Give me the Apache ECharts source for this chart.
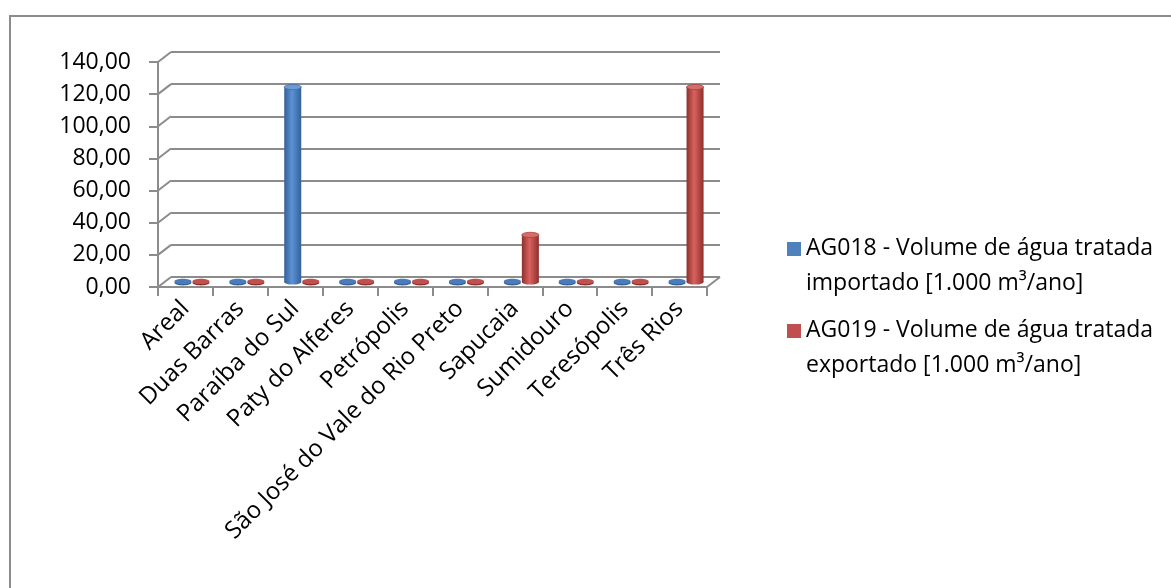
<!DOCTYPE html>
<html>
<head>
<meta charset="utf-8">
<script src="https://cdn.jsdelivr.net/npm/echarts@6/dist/echarts.min.js"></script>
<style>html,body{margin:0;padding:0;background:#fff;}#c{width:1171px;height:588px;}</style>
</head>
<body>
<div id="c"></div>
<script>
const categories = ['Areal','Duas Barras','Paraíba do Sul','Paty do Alferes','Petrópolis','São José do Vale do Rio Preto','Sapucaia','Sumidouro','Teresópolis','Três Rios'];
const seriesNames = ['AG018 - Volume de água tratada\nimportado [1.000 m³/ano]','AG019 - Volume de água tratada\nexportado [1.000 m³/ano]'];
const ag018 = [0, 0, 121.3, 0, 0, 0, 0, 0, 0, 0];
const ag019 = [0, 0, 0, 0, 0, 0, 29.3, 0, 0, 121.3];
const yTicks = [0, 20, 40, 60, 80, 100, 120, 140];

const FONT = 'Open Sans';
const DX = 13, DY = -10; // depth offset of back wall
const GRID = '#8c8c8c';

const palettes = [
  {edge:'#35609a', mid:'#5c92d4', base:'#4a7cbc', top:'#6d9bd6', rim:'#3f6ea8'},
  {edge:'#8e2f2c', mid:'#d9625f', base:'#c0504d', top:'#d66d6a', rim:'#a9403d'}
];

function cylinder(si) {
  return function (params, api) {
    const cat = api.value(0), v = api.value(1);
    const band = api.size([1, 0])[0];
    const w = band * 0.31;
    const off = (si === 0 ? -1 : 1) * (w / 2 + 0.5);
    const b = api.coord([cat, 0]);
    const t = api.coord([cat, v]);
    const cx = b[0] + off + DX / 2;
    const by = b[1] + DY / 2;
    const ty = t[1] + DY / 2;
    const rx = w / 2, ry = 2.6;
    const p = palettes[si];
    const grad = {type:'linear', x:0, y:0, x2:1, y2:0, colorStops:[
      {offset:0, color:p.edge},{offset:0.45, color:p.mid},{offset:1, color:p.edge}]};
    const children = [];
    if (by - ty > 1) {
      children.push({type:'rect', shape:{x:cx - rx, y:ty, width:w, height:by - ty}, style:{fill:grad}});
      children.push({type:'ellipse', shape:{cx:cx, cy:by, rx:rx, ry:ry}, style:{fill:grad}});
      children.push({type:'ellipse', shape:{cx:cx, cy:ty, rx:rx, ry:ry}, style:{fill:p.top, stroke:p.rim, lineWidth:0.8}});
    } else {
      children.push({type:'ellipse', shape:{cx:cx, cy:by + 0.8, rx:rx, ry:ry}, style:{fill:p.edge}});
      children.push({type:'ellipse', shape:{cx:cx, cy:by - 0.6, rx:rx, ry:ry}, style:{fill:p.base}});
    }
    return {type:'group', children:children};
  };
}

function connectors(params, api) {
  const v = api.value(0);
  const cs = params.coordSys;
  const y = api.coord([0, v])[1];
  const children = [{type:'line', shape:{x1:cs.x, y1:y, x2:cs.x + DX, y2:y + DY}, style:{stroke:GRID, lineWidth:2}}];
  if (v === 0) {
    children.push({type:'line', shape:{x1:cs.x + cs.width, y1:y, x2:cs.x + cs.width + DX, y2:y + DY}, style:{stroke:GRID, lineWidth:2}});
  }
  return {type:'group', children:children};
}

const chart = echarts.init(document.getElementById('c'), null, {renderer:'canvas'});
chart.setOption({
  animation:false,
  backgroundColor:'#ffffff',
  textStyle:{fontFamily:FONT},
  graphic:[{type:'rect', shape:{x:10, y:16, width:1300, height:700}, style:{fill:'none', stroke:GRID, lineWidth:2}, silent:true, z:-10}],
  grid:[
    {left:158, top:62, width:549, height:225},
    {left:158 + DX, top:62 + DY, width:549, height:225}
  ],
  xAxis:[
    {type:'category', gridIndex:0, data:categories, boundaryGap:true,
     axisLine:{lineStyle:{color:GRID, width:2}},
     axisTick:{show:true, interval:0, length:9, lineStyle:{color:GRID, width:2}},
     axisLabel:{interval:0, rotate:45, margin:18, color:'#000', fontSize:24, fontFamily:FONT}},
    {type:'category', gridIndex:1, data:categories, show:false}
  ],
  yAxis:[
    {type:'value', gridIndex:0, min:0, max:140, interval:20,
     axisLine:{show:true, lineStyle:{color:GRID, width:2}},
     axisTick:{show:true, length:9, lineStyle:{color:GRID, width:2}},
     splitLine:{show:false},
     axisLabel:{margin:27, color:'#000', fontSize:23, fontFamily:FONT, formatter:function(v){return v.toFixed(2).replace('.', ',');}}},
    {type:'value', gridIndex:1, min:0, max:140, interval:20,
     axisLine:{show:false}, axisTick:{show:false}, axisLabel:{show:false},
     splitLine:{show:true, lineStyle:{color:GRID, width:2}}}
  ],
  legend:{
    orient:'vertical', left:787, top:231, padding:0, itemGap:12,
    itemWidth:14, itemHeight:48, itemTextGap:7,
    icon:'path://M0,0L14,0L14,14L0,14ZM0,48',
    textStyle:{fontSize:23, lineHeight:35, color:'#000', fontFamily:FONT},
    data:[
      {name:seriesNames[0], itemStyle:{color:'#4F81BD'}},
      {name:seriesNames[1], itemStyle:{color:'#C0504D'}}
    ]
  },
  series:[
    {type:'custom', name:'grid-depth', xAxisIndex:0, yAxisIndex:0, renderItem:connectors,
     data:yTicks.map(function(v){return [v];}), encode:{y:0}, silent:true, z:1},
    {type:'custom', name:seriesNames[0], xAxisIndex:0, yAxisIndex:0, renderItem:cylinder(0),
     itemStyle:{color:'#4F81BD'}, data:ag018.map(function(v,i){return [i, v];}), encode:{x:0, y:1}, z:5},
    {type:'custom', name:seriesNames[1], xAxisIndex:0, yAxisIndex:0, renderItem:cylinder(1),
     itemStyle:{color:'#C0504D'}, data:ag019.map(function(v,i){return [i, v];}), encode:{x:0, y:1}, z:5}
  ]
});
</script>
</body>
</html>
